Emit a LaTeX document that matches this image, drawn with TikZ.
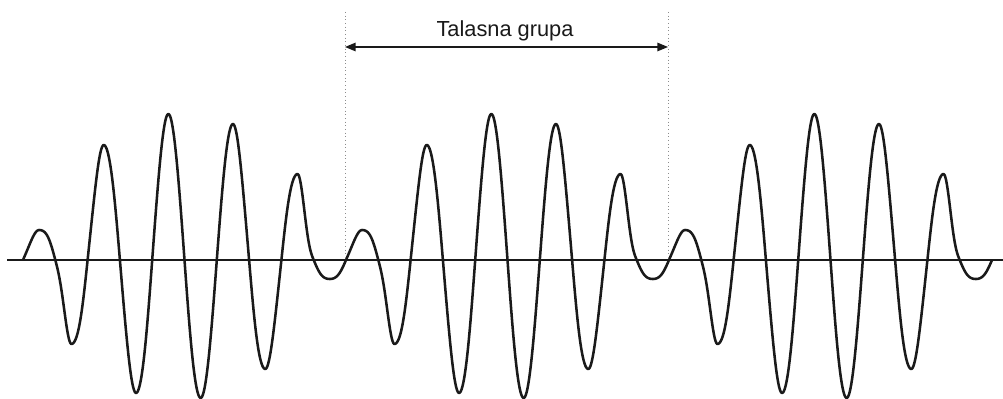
\documentclass[tikz,border=0pt]{standalone}
\usepackage{fontspec}
\setmainfont{Liberation Sans}
\usetikzlibrary{arrows.meta}
\definecolor{talCrna}{HTML}{1A1A1A}
\definecolor{talSiva}{HTML}{8C8C8C}

\begin{document}
\begin{tikzpicture}[x=0.025cm, y=-0.025cm,
      declare function={
        lukk(\u)=int(mod(floor(10*\u),10));
        deo(\u)=10*\u-floor(10*\u);
        amp(\u)={30,84,115,133,146,138,136,109,86,19}[lukk(\u)];
        ivica(\u)={23.9,39,98.3,123.7,139.3,141.9,137.0,121.8,96.8,24.7,23.9}[lukk(\u)+int(deo(\u)>=0.5)];
        anvelopa(\u)=amp(\u)+(ivica(\u)-amp(\u))*(1+cos(360*deo(\u)))/2;},
      osa/.style={talCrna, line width=1.1pt},
      val/.style={talCrna, line width=1.8pt, line join=round},
      granica/.style={talSiva, dotted, line width=0.6pt},
      mera/.style={talCrna, line width=0.9pt, {Triangle[length=7.5pt,width=6pt]}-{Triangle[length=7.5pt,width=6pt]}},
      natpis/.style={font=\fontsize{15.5}{18}\selectfont, text=talCrna}]
    \useasboundingbox (0,0) rectangle (1003,399);
    \coordinate (o1) at (7,260);
    \coordinate (o2) at (1003,260);
    \coordinate (gL) at (345,260);
    \coordinate (gR) at (668,260);
    \coordinate (tL) at (345,12);
    \coordinate (tR) at (668,12);
    \coordinate (aL) at (345,47);
    \coordinate (aR) at (668,47);
    \draw[osa] (o1) -- (o2);
    \draw[val] plot[domain=0:3, samples=1201]
      ({23+323*\x}, {260-anvelopa(\x)*sin(1800*\x)});
    \foreach \n in {L,R} {\draw[granica] (t\n) -- (g\n);}
    \draw[mera] (aL) -- (aR);
    \node[natpis] (naslov) at (505,31) {Talasna grupa};
  \end{tikzpicture}
\end{document}
